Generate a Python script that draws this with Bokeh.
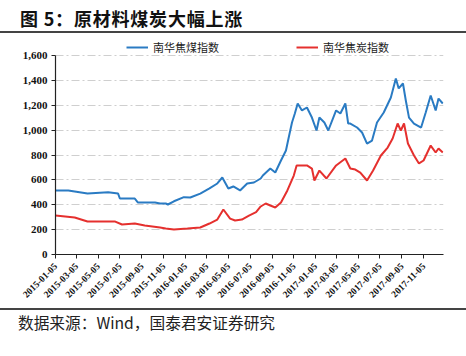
import pandas as pd
from math import pi
from bokeh.plotting import figure
from bokeh.layouts import column
from bokeh.models import (Legend, FixedTicker, NumeralTickFormatter, DatetimeTickFormatter,
                          Range1d, Div)
from bokeh.embed import file_html
from bokeh.resources import INLINE

# ---------------- data ----------------
coal_dates = ["2015-01-05", "2015-02-10", "2015-04-05", "2015-06-02", "2015-06-30", "2015-07-05",
              "2015-08-16", "2015-08-25", "2015-10-12", "2015-10-26", "2015-11-11", "2015-11-17",
              "2015-12-04", "2016-01-01", "2016-01-19", "2016-02-16", "2016-03-13", "2016-04-04",
              "2016-04-18", "2016-05-05", "2016-05-19", "2016-06-07", "2016-06-27", "2016-07-16",
              "2016-08-04", "2016-08-10", "2016-08-31", "2016-09-14", "2016-09-30", "2016-10-14",
              "2016-10-23", "2016-10-31", "2016-11-08", "2016-11-16", "2016-11-28", "2016-12-12",
              "2016-12-26", "2017-01-08", "2017-01-16", "2017-01-30", "2017-02-10", "2017-03-04",
              "2017-03-16", "2017-03-30", "2017-04-07", "2017-04-13", "2017-05-02", "2017-05-16",
              "2017-05-30", "2017-06-13", "2017-06-27", "2017-07-16", "2017-08-05", "2017-08-19",
              "2017-08-27", "2017-09-08", "2017-09-16", "2017-09-25", "2017-10-09", "2017-10-29",
              "2017-11-11", "2017-11-25", "2017-12-09", "2017-12-17", "2017-12-29"]
coal_values = [515, 515, 490, 500, 490, 450,
               450, 418, 418, 410, 410, 402,
               428, 461, 458, 490, 531, 571,
               619, 531, 547, 515, 571, 579,
               611, 635, 691, 659, 756, 836,
               957, 1061, 1134, 1214, 1158, 1182,
               1101, 997, 1101, 1061, 997, 1158,
               1134, 1214, 1053, 1053, 1021, 981,
               892, 916, 1061, 1142, 1262, 1415,
               1335, 1375, 1238, 1101, 1053, 1021,
               1142, 1278, 1158, 1254, 1214]

coke_dates = ["2015-01-05", "2015-02-28", "2015-04-05", "2015-06-22", "2015-07-11", "2015-08-16",
              "2015-09-13", "2015-10-26", "2015-11-11", "2015-12-04", "2016-01-11", "2016-02-16",
              "2016-03-13", "2016-04-04", "2016-04-21", "2016-05-10", "2016-05-24", "2016-06-12",
              "2016-07-02", "2016-07-22", "2016-08-04", "2016-08-18", "2016-08-31", "2016-09-14",
              "2016-09-30", "2016-10-18", "2016-11-05", "2016-11-13", "2016-12-12", "2016-12-26",
              "2017-01-02", "2017-01-16", "2017-02-05", "2017-03-04", "2017-03-30", "2017-04-13",
              "2017-04-27", "2017-05-11", "2017-05-30", "2017-06-16", "2017-07-08", "2017-07-27",
              "2017-08-10", "2017-08-24", "2017-09-02", "2017-09-11", "2017-09-22", "2017-10-09",
              "2017-10-23", "2017-11-05", "2017-11-25", "2017-12-09", "2017-12-17", "2017-12-29"]
coke_values = [313, 298, 265, 265, 241, 249,
               233, 217, 209, 201, 209, 217,
               249, 281, 362, 289, 273, 281,
               313, 340, 386, 410, 394, 378,
               418, 515, 635, 716, 716, 691,
               595, 675, 611, 716, 772, 691,
               683, 659, 595, 675, 796, 860,
               933, 1053, 997, 1053, 892, 796,
               732, 756, 876, 820, 852, 820]

x_tick_labels = ["2015-01-05", "2015-03-05", "2015-05-05", "2015-07-05", "2015-09-05", "2015-11-05",
                 "2016-01-05", "2016-03-05", "2016-05-05", "2016-07-05", "2016-09-05", "2016-11-05",
                 "2017-01-05", "2017-03-05", "2017-05-05", "2017-07-05", "2017-09-05", "2017-11-05"]
y_ticks = [0, 200, 400, 600, 800, 1000, 1200, 1400, 1600]

series_names = ["南华焦煤指数", "南华焦炭指数"]
title_text = "图 5：原材料煤炭大幅上涨"
source_text = "数据来源：Wind，国泰君安证券研究"

# ---------------- styling ----------------
BLUE = "#2a7bc3"
RED = "#e5302e"
CJK = "'Noto Sans CJK SC', sans-serif"
W = 466

def ms(s):
    return pd.Timestamp(s).value / 1e6

# top of the frame is extended above 1600 so the legend sits inside the frame
y_top = 1600 * 216 / 199

p = figure(width=W, height=275, output_backend="svg", toolbar_location=None,
           x_axis_type="datetime",
           x_range=Range1d(pd.Timestamp("2015-01-05"), pd.Timestamp("2017-12-31")),
           y_range=Range1d(0, y_top),
           min_border_left=55, min_border_right=23, min_border_top=5, min_border_bottom=54)
p.outline_line_color = None
p.background_fill_color = "white"
p.border_fill_color = "white"

r1 = p.line(pd.to_datetime(coal_dates), coal_values, line_color=BLUE, line_width=2)
r2 = p.line(pd.to_datetime(coke_dates), coke_values, line_color=RED, line_width=2)

# axes
p.xaxis.ticker = FixedTicker(ticks=[ms(t) for t in x_tick_labels])
fmt = "%Y-%m-%d"
p.xaxis.formatter = DatetimeTickFormatter(milliseconds=fmt, seconds=fmt, minsec=fmt, minutes=fmt,
                                          hourmin=fmt, hours=fmt, days=fmt, months=fmt, years=fmt)
p.xaxis.major_label_orientation = pi / 4
p.yaxis.ticker = FixedTicker(ticks=y_ticks)
p.yaxis.formatter = NumeralTickFormatter(format="0,0")
p.yaxis.bounds = (y_ticks[0], y_ticks[-1])

for ax in (p.xaxis, p.yaxis):
    ax.axis_line_color = "#222222"
    ax.axis_line_width = 1.2
    ax.major_tick_line_color = "#222222"
    ax.major_tick_in = 0
    ax.major_tick_out = 4
    ax.minor_tick_line_color = None
    ax.major_label_text_font = "Liberation Serif"
    ax.major_label_text_font_style = "bold"
    ax.major_label_text_color = "#111111"
p.xaxis.major_label_text_font_size = "9.5px"
p.yaxis.major_label_text_font_size = "11px"
p.yaxis.major_label_standoff = 4
p.xaxis.major_label_standoff = 6

p.xgrid.grid_line_color = None
p.ygrid.grid_line_color = "#cfcfcf"
p.ygrid.grid_line_dash = "8 3 2 3"
p.ygrid.grid_line_width = 1

# legend (inside the extended frame, above the 1,600 line)
legend = Legend(items=[(series_names[0], [r1]), (series_names[1], [r2])],
                orientation="horizontal", location=(71, 199),
                spacing=77, glyph_width=22, glyph_height=14, label_height=14,
                label_standoff=5, padding=0, margin=0,
                border_line_color=None, background_fill_alpha=0,
                label_text_font="Noto Sans CJK SC", label_text_font_size="11px",
                label_text_color="#222222")
p.add_layout(legend)

title_div = Div(
    text=(f'<div style="width:{W}px;height:33px;border-bottom:2px solid #444;'
          f'font-family:{CJK};font-weight:bold;font-size:18px;letter-spacing:0.8px;'
          f'line-height:22px;padding-top:7px;padding-left:20px;box-sizing:border-box;'
          f'color:#111;white-space:nowrap">{title_text}</div>'),
    width=W, height=33, margin=(0, 0, 0, 0))

source_div = Div(
    text=(f'<div style="width:{W}px;height:48px;border-top:2px solid #444;'
          f'font-family:{CJK};font-size:15.7px;line-height:26px;'
          f'padding-left:18px;box-sizing:border-box;color:#222;white-space:nowrap">{source_text}</div>'),
    width=W, height=48, margin=(0, 0, 0, 0))

layout = column(title_div, p, source_div, spacing=0)

open("out.html", "w").write(file_html(layout, INLINE))
